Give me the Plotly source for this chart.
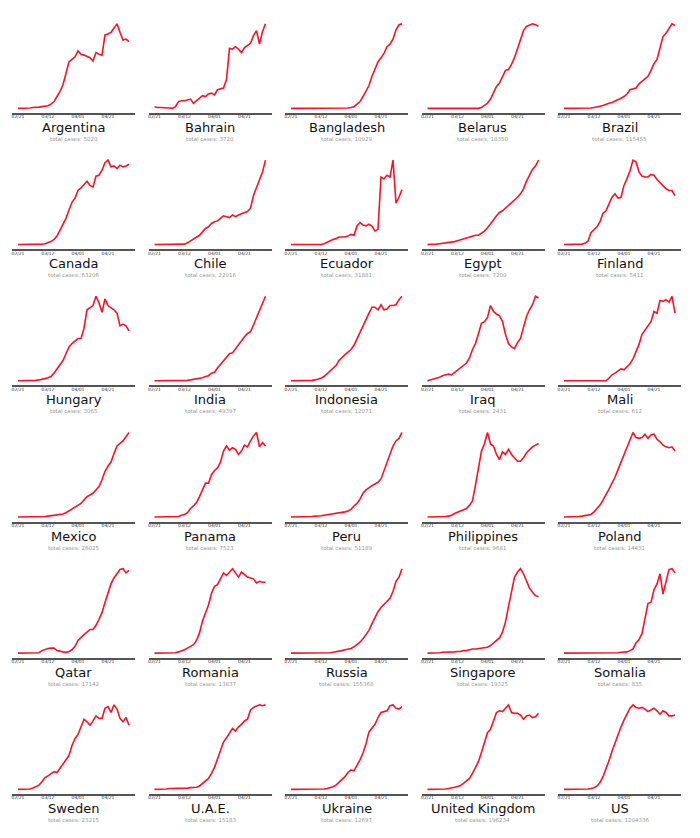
import plotly.graph_objects as go
import pandas as pd

# sample dates: every 2 days from 02/21 to 05/05
dates = pd.date_range("2020-02-21", periods=38, freq="2D")
tick_dates = ["2020-02-21", "2020-03-12", "2020-04-01", "2020-04-21"]
tick_labels = ["02/21", "03/12", "04/01", "04/21"]

countries = ["Argentina", "Bahrain", "Bangladesh", "Belarus", "Brazil",
             "Canada", "Chile", "Ecuador", "Egypt", "Finland",
             "Hungary", "India", "Indonesia", "Iraq", "Mali",
             "Mexico", "Panama", "Peru", "Philippines", "Poland",
             "Qatar", "Romania", "Russia", "Singapore", "Somalia",
             "Sweden", "U.A.E.", "Ukraine", "United Kingdom", "US"]
total_cases = [5020, 3720, 10929, 18350, 115455,
               63206, 22016, 31881, 7200, 5411,
               3065, 49397, 12071, 2431, 612,
               26025, 7523, 51189, 9681, 14431,
               17142, 13837, 155368, 19325, 835,
               23215, 15183, 12697, 196234, 1204336]

# normalised daily new cases (smoothed), % of each country's maximum
argentina = [0, 0, 0, 0, 0.5, 1, 1, 1.5, 2, 2.5, 3, 5, 8, 14, 20, 28, 40, 55, 58, 61,
             68, 64, 63, 61, 60, 56, 66, 64, 63, 87, 88, 90, 95, 100, 90, 81, 82, 79]
bahrain = [2, 1, 1, 1, 0.5, 0.5, 0, 2, 8, 9, 9, 10, 11, 6, 9, 12, 15, 14, 17, 18,
           16, 22, 23, 24, 34, 71, 70, 73, 70, 66, 72, 74, 77, 86, 92, 76, 91, 100]
bangladesh = [0, 0, 0, 0, 0, 0, 0, 0, 0, 0, 0.5, 0.5, 0.5, 0.5, 0.5, 0.5, 0.5, 0.5, 0.5, 0.5,
              1, 2, 5, 8, 14, 21, 27, 38, 47, 55, 60, 65, 73, 76, 82, 93, 99, 100]
belarus = [0, 0, 0, 0, 0, 0, 0, 0, 0, 0, 0, 0, 0, 0, 0, 0, 0, 0, 1, 3,
           6, 11, 19, 26, 30, 37, 45, 46, 52, 60, 70, 80, 92, 97, 99, 100, 99, 97]
brazil = [0, 0, 0, 0, 0, 0, 0, 0, 0, 0.5, 1, 1.5, 2.5, 3.5, 5, 6, 7, 8.5, 10, 12,
          14, 17, 22, 23, 24, 29, 32, 35, 38, 45, 53, 58, 72, 85, 89, 95, 100, 98]
canada = [0, 0, 0, 0, 0, 0, 0, 0, 0.5, 1, 2, 3.5, 6, 10, 17, 24, 31, 41, 50, 55,
          64, 67, 71, 75, 70, 68, 81, 82, 88, 97, 100, 92, 93, 90, 94, 92, 93, 95]
chile = [0, 0, 0, 0, 0, 0, 0, 0, 0, 0, 0.5, 2, 4, 6, 8, 11, 15, 19, 21, 25,
         27, 28, 31, 34, 33, 32, 35, 33, 35, 37, 38, 39, 43, 58, 68, 77, 86, 100]
ecuador = [0, 0, 0, 0, 0, 0, 0, 0, 0, 0, 0, 1, 3, 5, 6, 7, 9, 9, 9, 10,
           12, 11, 22, 26, 23, 22, 24, 22, 16, 18, 80, 78, 82, 80, 100, 49, 56, 65]
egypt = [0, 0, 0.5, 0.5, 1, 1.5, 1.5, 2, 3, 3.5, 4.5, 5.5, 6.5, 7.5, 8.5, 10, 11, 11, 13, 16,
         20, 24, 29, 34, 38, 40, 43, 46, 49, 52, 56, 60, 66, 75, 83, 89, 93, 100]
finland = [0, 0, 0, 0, 0, 0, 0.5, 1.5, 4, 14, 17, 21, 27, 37, 40, 48, 56, 60, 55, 56,
           70, 78, 87, 100, 98, 86, 81, 80, 80, 83, 82, 77, 73, 70, 66, 64, 64, 58]
hungary = [0, 0, 0, 0, 0, 0, 0.5, 1, 1.5, 2.5, 3.5, 5, 9, 14, 19, 24, 32, 40, 44, 47,
           50, 50, 62, 84, 87, 89, 100, 92, 81, 97, 89, 87, 84, 80, 65, 67, 65, 59]
india = [0, 0, 0, 0, 0, 0, 0, 0, 0, 0, 0, 0.5, 1, 1.5, 2, 3, 3.5, 5, 6, 9,
         10, 15, 19, 23, 28, 32, 33, 38, 43, 47, 52, 56, 58, 66, 74, 84, 90, 100]
indonesia = [0, 0, 0, 0, 0, 0, 0, 0.5, 1, 2, 3, 5, 8, 12, 15, 18, 24, 28, 31, 34,
             37, 42, 50, 57, 64, 72, 80, 87, 87, 84, 90, 84, 85, 89, 89, 90, 96, 100]
iraq = [0, 1, 2, 3, 4, 6, 7, 8, 7, 10, 12, 15, 18, 21, 27, 37, 44, 57, 68, 70,
        75, 89, 82, 79, 77, 70, 55, 44, 40, 38, 45, 50, 64, 76, 84, 90, 100, 98]
mali = [0, 0, 0, 0, 0, 0, 0, 0, 0, 0, 0, 0, 0, 0, 0, 3, 7, 9, 11, 14,
        13, 16, 20, 26, 35, 43, 55, 60, 66, 70, 82, 80, 95, 94, 96, 93, 100, 80]
mexico = [0, 0, 0, 0, 0, 0, 0, 0, 0.5, 0.5, 1, 1.5, 2, 2.5, 3, 3.5, 5, 7, 9, 11,
          13, 16, 20, 24, 26, 28, 32, 36, 44, 54, 60, 65, 75, 84, 87, 90, 95, 100]
panama = [0, 0, 0, 0, 0, 0, 0, 0, 0.5, 2, 3, 5, 10, 13, 17, 24, 33, 40, 40, 50,
          55, 58, 65, 78, 84, 79, 82, 80, 74, 78, 85, 83, 90, 96, 100, 83, 88, 84]
peru = [0, 0, 0, 0, 0, 0, 0, 0.5, 1, 1, 1.5, 2, 2.5, 3, 4, 4.5, 5, 5.5, 6, 7,
        9, 13, 16, 21, 28, 32, 35, 37, 39, 41, 45, 55, 65, 76, 84, 90, 93, 100]
philippines = [0, 0, 0, 0, 0, 0, 0.5, 1, 2, 4, 5.5, 7, 8, 10, 14, 19, 38, 57, 78, 87,
               100, 86, 84, 74, 68, 77, 74, 80, 74, 70, 66, 66, 70, 76, 80, 83, 85, 87]
poland = [0, 0, 0, 0, 0, 0.5, 1, 1.5, 2.5, 3, 6, 10, 14, 20, 26, 33, 40, 47, 56, 65,
          73, 82, 91, 100, 94, 93, 94, 98, 93, 97, 98, 92, 89, 85, 83, 82, 83, 78]
qatar = [0, 0, 0, 0, 0, 0, 0, 0.5, 3, 4.5, 5.5, 6, 6, 3, 2, 1.5, 1, 2, 4, 8,
         15, 19, 22, 25, 28, 28, 33, 40, 48, 60, 72, 82, 89, 94, 99, 100, 95, 98]
romania = [0, 0, 0, 0, 0, 0, 0, 0.5, 1.5, 2.5, 4, 6, 8, 10, 15, 24, 38, 48, 57, 71,
           79, 81, 88, 95, 92, 96, 100, 95, 90, 96, 93, 90, 89, 88, 83, 85, 84, 84]
russia = [0, 0, 0, 0, 0, 0, 0, 0, 0, 0, 0, 0, 0, 0.5, 1, 1.5, 2, 3, 4, 4.5,
          5.5, 7.5, 10, 13, 17, 22, 27, 35, 43, 49, 54, 58, 61, 65, 73, 85, 90, 100]
singapore = [0, 0, 0, 0.5, 0.5, 1, 1, 1, 1.5, 1.5, 2, 2, 3, 3, 4, 5, 5, 5.5, 6, 6,
             7, 9, 12, 15, 18, 25, 37, 55, 73, 90, 96, 100, 94, 85, 77, 72, 68, 67]
somalia = [0, 0, 0, 0, 0, 0, 0, 0, 0, 0, 0, 0, 0, 0, 0, 0, 0, 0.5, 0.5, 1,
           1, 1.5, 3, 5, 12, 16, 23, 40, 59, 60, 75, 82, 94, 70, 86, 99, 100, 95]
sweden = [0, 0, 0, 0, 0.5, 1.5, 3, 5, 9, 14, 16, 18, 21, 20, 25, 30, 35, 40, 52, 60,
          65, 74, 83, 80, 76, 81, 87, 84, 84, 96, 98, 91, 100, 95, 84, 80, 85, 76]
uae = [0, 0, 0.5, 0.5, 0.5, 1, 1, 1, 1, 1.5, 1.5, 1.5, 2, 2, 2.5, 4, 7, 9, 13, 19,
       26, 36, 46, 56, 61, 67, 72, 69, 74, 77, 81, 83, 94, 97, 99, 100, 99, 100]
ukraine = [0, 0, 0, 0, 0, 0, 0, 0, 0, 0, 0, 0.5, 1, 2, 3, 5, 8, 11, 15, 20,
           23, 22, 28, 35, 43, 54, 68, 72, 77, 85, 91, 92, 93, 99, 100, 96, 95, 98]
united_kingdom = [0, 0, 0, 0, 0, 0, 0.5, 1, 1.5, 2.5, 3.5, 4.5, 7, 10, 13, 19, 26, 33, 44, 56,
                  67, 71, 81, 91, 93, 92, 96, 100, 91, 90, 90, 88, 83, 87, 88, 85, 86, 90]
us = [0, 0, 0, 0, 0, 0, 0, 0, 0.5, 1, 2, 4, 8, 15, 24, 34, 45, 55, 64, 74,
      82, 90, 96, 100, 97, 96, 97, 95, 92, 94, 96, 93, 89, 93, 91, 87, 87, 88]

series = [argentina, bahrain, bangladesh, belarus, brazil,
          canada, chile, ecuador, egypt, finland,
          hungary, india, indonesia, iraq, mali,
          mexico, panama, peru, philippines, poland,
          qatar, romania, russia, singapore, somalia,
          sweden, uae, ukraine, united_kingdom, us]

W, H = 700, 838
col_left = [12 + 136.5 * i for i in range(5)]
col_w = 123
row_axis = [113 + 136.2 * r for r in range(6)]
plot_h = 92.5

fig = go.Figure()
annotations = []
layout_axes = {}
for k, (name, total, vals) in enumerate(zip(countries, total_cases, series)):
    r, c = divmod(k, 5)
    idx = k + 1
    xa = "x" if idx == 1 else f"x{idx}"
    ya = "y" if idx == 1 else f"y{idx}"
    xkey = "xaxis" if idx == 1 else f"xaxis{idx}"
    ykey = "yaxis" if idx == 1 else f"yaxis{idx}"
    fig.add_trace(go.Scatter(x=dates, y=vals, xaxis=xa, yaxis=ya, mode="lines",
                             line=dict(color="#ff1020", width=1.6),
                             hoverinfo="skip", showlegend=False))
    x0 = col_left[c] / W
    x1 = (col_left[c] + col_w) / W
    yb = 1 - row_axis[r] / H
    yt = 1 - (row_axis[r] - plot_h) / H
    layout_axes[xkey] = dict(domain=[x0, x1], anchor=ya,
                             range=["2020-02-17", "2020-05-09"],
                             tickmode="array", tickvals=tick_dates, ticktext=tick_labels,
                             showline=True, linecolor="#555555", linewidth=2,
                             showgrid=False, zeroline=False, ticks="",
                             ticklabelstandoff=-2,
                             tickfont=dict(size=4.5, color="#333333", family="DejaVu Sans"),
                             fixedrange=True)
    layout_axes[ykey] = dict(domain=[yb, yt], anchor=xa, range=[-5.5, 104],
                             visible=False, fixedrange=True)
    xc = (x0 + x1) / 2
    annotations.append(dict(text=name, x=xc, y=1 - (row_axis[r] + 14.5) / H,
                            xref="paper", yref="paper", xanchor="center", yanchor="middle",
                            showarrow=False,
                            font=dict(size=13, color="#111111", family="DejaVu Sans")))
    annotations.append(dict(text=f"total cases: {total}", x=xc, y=1 - (row_axis[r] + 26) / H,
                            xref="paper", yref="paper", xanchor="center", yanchor="middle",
                            showarrow=False,
                            font=dict(size=5.5, color="#999999", family="DejaVu Sans")))

fig.update_layout(width=W, height=H, margin=dict(l=0, r=0, t=0, b=0),
                  paper_bgcolor="white", plot_bgcolor="white",
                  font=dict(family="DejaVu Sans"),
                  annotations=annotations, **layout_axes)
fig.write_html("out.html", config={"displayModeBar": False},
               post_script="document.body.style.margin='0';document.body.style.padding='0';")
